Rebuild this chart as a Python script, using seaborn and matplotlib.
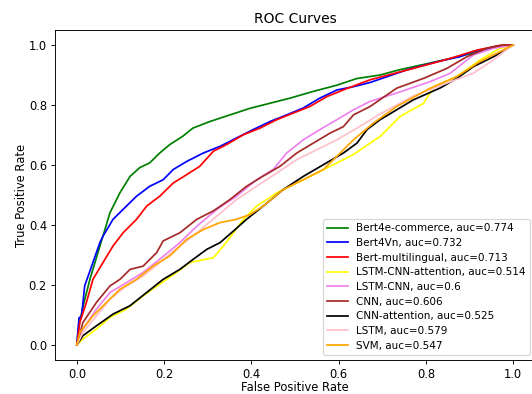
import matplotlib
matplotlib.use("Agg")
import matplotlib.pyplot as plt
import seaborn as sns
import pandas as pd

models = ["Bert4e-commerce", "Bert4Vn", "Bert-multilingual", "LSTM-CNN-attention",
          "LSTM-CNN", "CNN", "CNN-attention", "LSTM", "SVM"]
aucs = ["0.774", "0.732", "0.713", "0.514", "0.6", "0.606", "0.525", "0.579", "0.547"]
colors = ["green", "blue", "red", "yellow", "violet", "brown", "black", "pink", "orange"]

fpr_bert4e = [0, 0.004, 0.0145, 0.030, 0.053, 0.076, 0.099, 0.122, 0.144, 0.167, 0.19, 0.213,
              0.243, 0.266, 0.305, 0.351, 0.397, 0.443, 0.489, 0.541, 0.596, 0.641, 0.695,
              0.741, 0.81, 0.862, 0.908, 0.954, 1.0]
tpr_bert4e = [0, 0.06, 0.13, 0.219, 0.330, 0.441, 0.508, 0.562, 0.591, 0.607, 0.64, 0.668,
              0.696, 0.723, 0.745, 0.767, 0.789, 0.806, 0.823, 0.845, 0.866, 0.888, 0.900,
              0.918, 0.94, 0.957, 0.973, 0.994, 1.0]

fpr_bert4vn = [0, 0.005, 0.011, 0.018, 0.034, 0.053, 0.06, 0.083, 0.106, 0.137, 0.167, 0.198,
               0.221, 0.252, 0.29, 0.328, 0.366, 0.404, 0.443, 0.481, 0.519, 0.557, 0.596,
               0.634, 0.672, 0.756, 0.825, 0.878, 0.908, 0.963, 1.0]
tpr_bert4vn = [0, 0.09, 0.097, 0.197, 0.263, 0.342, 0.363, 0.419, 0.452, 0.496, 0.529, 0.551,
               0.585, 0.612, 0.640, 0.662, 0.690, 0.718, 0.745, 0.767, 0.790, 0.823, 0.850,
               0.861, 0.875, 0.917, 0.944, 0.961, 0.978, 0.994, 1.0]

fpr_bertm = [0, 0.007, 0.022, 0.037, 0.06, 0.083, 0.106, 0.137, 0.160, 0.19, 0.221, 0.252,
             0.282, 0.313, 0.343, 0.382, 0.42, 0.458, 0.496, 0.534, 0.573, 0.619, 0.672,
             0.771, 0.848, 0.917, 0.970, 1.0]
tpr_bertm = [0, 0.076, 0.142, 0.219, 0.275, 0.330, 0.374, 0.419, 0.463, 0.496, 0.540, 0.568,
             0.596, 0.646, 0.668, 0.701, 0.723, 0.751, 0.773, 0.795, 0.828, 0.855, 0.884,
             0.922, 0.952, 0.983, 0.999, 1.0]

fpr_lcnna = [0, 0.014, 0.045, 0.076, 0.114, 0.152, 0.19, 0.229, 0.259, 0.313, 0.336, 0.359,
             0.382, 0.412, 0.458, 0.504, 0.550, 0.596, 0.634, 0.672, 0.695, 0.741, 0.795,
             0.818, 0.871, 0.924, 0.97, 1.0]
tpr_lcnna = [0, 0.02, 0.053, 0.092, 0.120, 0.164, 0.203, 0.242, 0.275, 0.291, 0.330, 0.374,
             0.419, 0.463, 0.507, 0.540, 0.573, 0.607, 0.635, 0.673, 0.695, 0.762, 0.806,
             0.861, 0.895, 0.950, 0.989, 1.0]

fpr_lcnn = [0, 0.014, 0.045, 0.076, 0.114, 0.152, 0.19, 0.236, 0.275, 0.321, 0.366, 0.412,
            0.45, 0.481, 0.519, 0.557, 0.596, 0.634, 0.672, 0.733, 0.810, 0.856, 0.909,
            0.955, 1.0]
tpr_lcnn = [0, 0.053, 0.12, 0.175, 0.208, 0.242, 0.286, 0.341, 0.396, 0.452, 0.496, 0.551,
            0.585, 0.640, 0.684, 0.718, 0.751, 0.784, 0.812, 0.840, 0.878, 0.906, 0.967,
            0.989, 1.0]

fpr_cnn = [0, 0.014, 0.045, 0.076, 0.099, 0.122, 0.152, 0.183, 0.198, 0.236, 0.275, 0.313,
           0.351, 0.389, 0.427, 0.466, 0.504, 0.542, 0.580, 0.611, 0.634, 0.672, 0.733,
           0.795, 0.848, 0.894, 0.940, 0.978, 1.0]
tpr_cnn = [0, 0.075, 0.142, 0.197, 0.219, 0.252, 0.263, 0.308, 0.347, 0.374, 0.419, 0.447,
           0.485, 0.529, 0.563, 0.596, 0.640, 0.673, 0.706, 0.728, 0.767, 0.795, 0.856,
           0.889, 0.922, 0.961, 0.989, 1.0, 1.0]

fpr_cnna = [0, 0.014, 0.045, 0.083, 0.122, 0.160, 0.198, 0.236, 0.267, 0.298, 0.328, 0.359,
            0.389, 0.427, 0.473, 0.519, 0.565, 0.611, 0.642, 0.665, 0.695, 0.771, 0.833,
            0.871, 0.909, 0.955, 0.993, 1.0]
tpr_cnna = [0, 0.031, 0.064, 0.103, 0.131, 0.175, 0.219, 0.252, 0.286, 0.319, 0.341, 0.380,
            0.419, 0.463, 0.518, 0.562, 0.601, 0.640, 0.673, 0.718, 0.751, 0.817, 0.857,
            0.889, 0.928, 0.961, 0.994, 1.0]

fpr_lstm = [0, 0.014, 0.045, 0.076, 0.114, 0.152, 0.19, 0.236, 0.275, 0.321, 0.366, 0.412,
            0.458, 0.504, 0.550, 0.596, 0.642, 0.695, 0.771, 0.848, 0.909, 0.955, 0.993, 1.0]
tpr_lstm = [0, 0.042, 0.097, 0.153, 0.197, 0.230, 0.275, 0.330, 0.374, 0.430, 0.485, 0.529,
            0.573, 0.618, 0.651, 0.684, 0.723, 0.770, 0.830, 0.873, 0.906, 0.950, 0.994, 1.0]

fpr_svm = [0, 0.007, 0.037, 0.068, 0.099, 0.137, 0.175, 0.213, 0.252, 0.290, 0.328, 0.366,
           0.397, 0.427, 0.473, 0.519, 0.565, 0.596, 0.634, 0.680, 0.733, 0.810, 0.871,
           0.924, 0.970, 1.0]
tpr_svm = [0, 0.042, 0.097, 0.142, 0.186, 0.219, 0.263, 0.297, 0.352, 0.385, 0.408, 0.419,
           0.435, 0.463, 0.518, 0.551, 0.585, 0.629, 0.684, 0.740, 0.795, 0.856, 0.895,
           0.945, 0.978, 1.0]

fprs = [fpr_bert4e, fpr_bert4vn, fpr_bertm, fpr_lcnna, fpr_lcnn, fpr_cnn, fpr_cnna, fpr_lstm, fpr_svm]
tprs = [tpr_bert4e, tpr_bert4vn, tpr_bertm, tpr_lcnna, tpr_lcnn, tpr_cnn, tpr_cnna, tpr_lstm, tpr_svm]

rows = []
labels = []
for m, a, fx, ty in zip(models, aucs, fprs, tprs):
    lab = f"{m}, auc={a}"
    labels.append(lab)
    for i, (x, y) in enumerate(zip(fx, ty)):
        rows.append({"fpr": x, "tpr": y, "model": lab, "order": i})
df = pd.DataFrame(rows)

dpi = 83.125
fig = plt.figure(figsize=(532 / dpi, 394 / dpi), dpi=dpi)
ax = fig.add_axes([55 / 532, 34 / 394, 480 / 532, 330 / 394])

sns.lineplot(data=df, x="fpr", y="tpr", hue="model", hue_order=labels,
             palette=dict(zip(labels, colors)), sort=False, estimator=None,
             linewidth=1.5, ax=ax)

ax.set_xlim(-0.05, 1.05)
ax.set_ylim(-0.05, 1.05)
ax.set_xticks([0.0, 0.2, 0.4, 0.6, 0.8, 1.0])
ax.set_yticks([0.0, 0.2, 0.4, 0.6, 0.8, 1.0])
ax.set_xlabel("False Positive Rate", labelpad=0)
ax.set_ylabel("True Positive Rate", labelpad=1)
ax.set_title("ROC Curves")
ax.legend(loc="lower right", title=None, fontsize=9, labelspacing=0.45)

fig.savefig("out.png", dpi=dpi)
